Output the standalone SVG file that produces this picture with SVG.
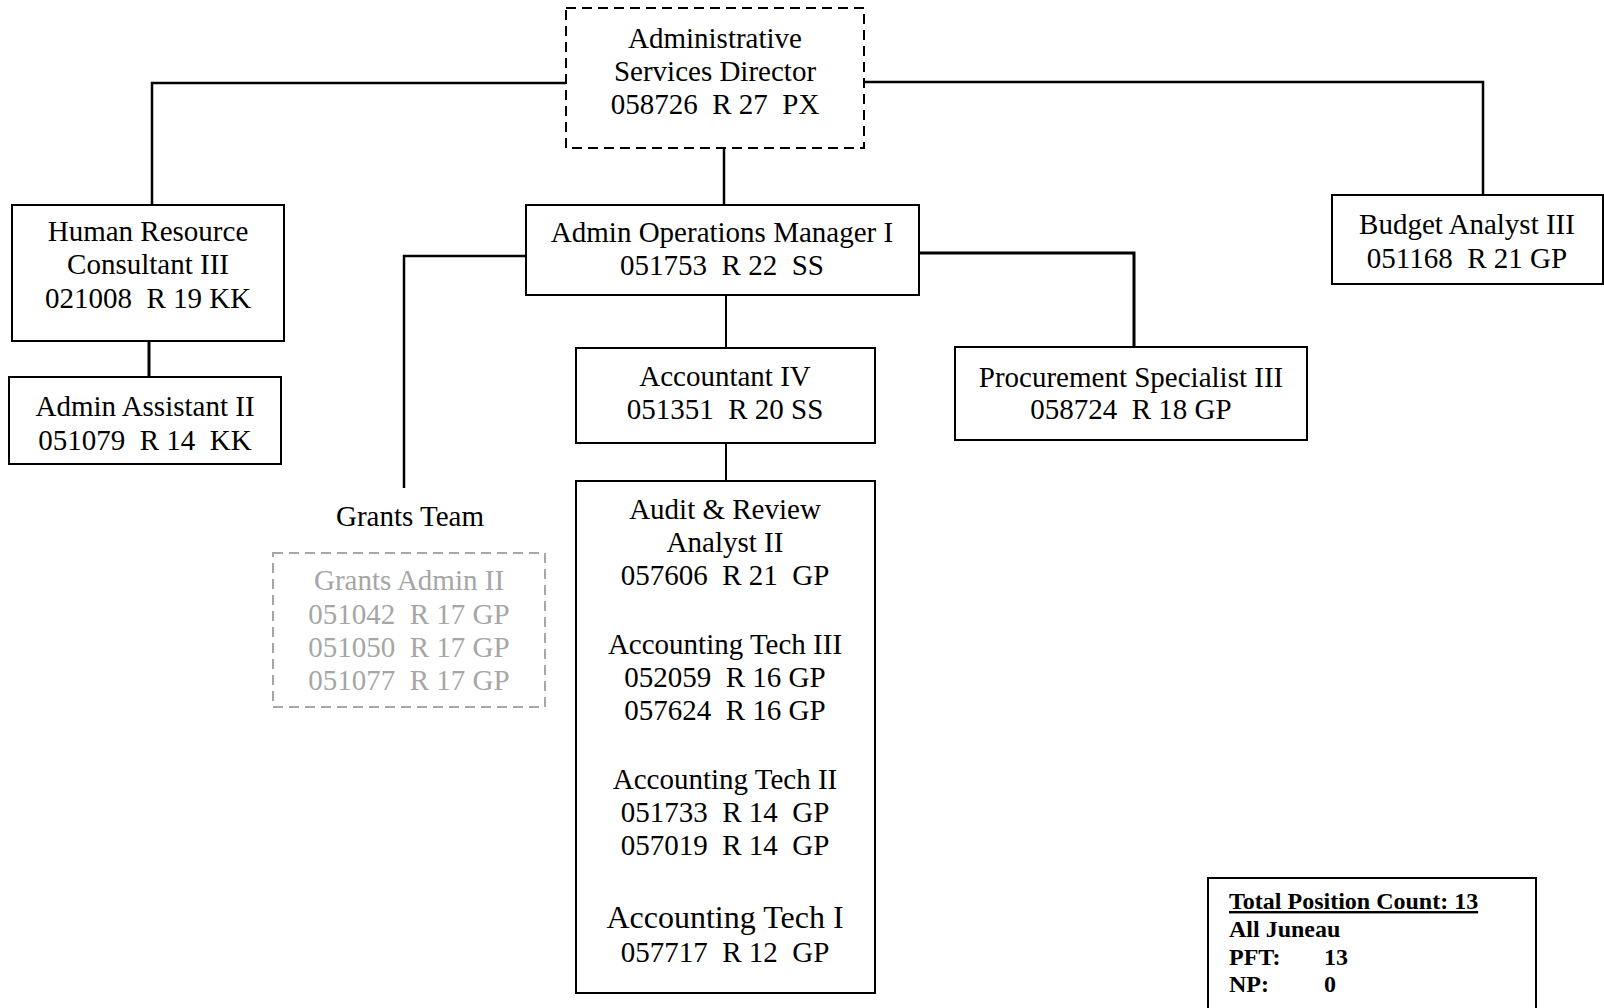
<svg xmlns="http://www.w3.org/2000/svg" width="1604" height="1008" viewBox="0 0 1604 1008">
<style>
.box{fill:#fff;stroke:#000;stroke-width:2}
.dash{fill:#fff;stroke:#000;stroke-width:2;stroke-dasharray:10 6}
.gdash{fill:#fff;stroke:#a6a6a6;stroke-width:2;stroke-dasharray:10 6}
.t{font-family:"Liberation Serif","Times New Roman",serif;font-size:29px;text-anchor:middle;fill:#000}
.g{fill:#a6a6a6}
.b{font-family:"Liberation Serif","Times New Roman",serif;font-size:24px;font-weight:bold;fill:#000}
.c{fill:none;stroke:#000;stroke-width:2.5}
</style>
<rect width="1604" height="1008" fill="#fff"/>
<g id="connectors">
<polyline class="c" points="566,83 152,83 152,205"/>
<polyline class="c" points="864,82 1483,82 1483,195"/>
<line class="c" x1="724" y1="148" x2="724" y2="205"/>
<line class="c" x1="149" y1="341" x2="149" y2="377" style="stroke-width:3"/>
<polyline class="c" points="526,256 404,256 404,488"/>
<polyline class="c" points="919,253 1134,253 1134,347" style="stroke-width:3"/>
<line class="c" x1="726" y1="295" x2="726" y2="348" style="stroke-width:2"/>
<line class="c" x1="726" y1="443" x2="726" y2="481" style="stroke-width:2"/>
</g>
<g id="director">
<rect class="dash" x="566" y="8" width="298" height="140"/>
<text class="t" x="715" y="48">Administrative</text>
<text class="t" x="715" y="81">Services Director</text>
<text class="t" x="715" y="114" xml:space="preserve">058726  R 27  PX</text>
</g>
<g id="hr">
<rect class="box" x="12" y="205" width="272" height="136"/>
<text class="t" x="148" y="241">Human Resource</text>
<text class="t" x="148" y="274">Consultant III</text>
<text class="t" x="148" y="308" xml:space="preserve">021008  R 19 KK</text>
</g>
<g id="admin-assistant">
<rect class="box" x="9" y="377" width="272" height="87"/>
<text class="t" x="145" y="416">Admin Assistant II</text>
<text class="t" x="145" y="450" xml:space="preserve">051079  R 14  KK</text>
</g>
<g id="aom">
<rect class="box" x="526" y="205" width="393" height="90"/>
<text class="t" x="722" y="242">Admin Operations Manager I</text>
<text class="t" x="722" y="275" xml:space="preserve">051753  R 22  SS</text>
</g>
<g id="accountant">
<rect class="box" x="576" y="348" width="299" height="95"/>
<text class="t" x="725" y="386">Accountant IV</text>
<text class="t" x="725" y="419" xml:space="preserve">051351  R 20 SS</text>
</g>
<g id="procurement">
<rect class="box" x="955" y="347" width="352" height="93"/>
<text class="t" x="1131" y="387">Procurement Specialist III</text>
<text class="t" x="1131" y="419" xml:space="preserve">058724  R 18 GP</text>
</g>
<g id="budget">
<rect class="box" x="1332" y="195" width="271" height="89"/>
<text class="t" x="1467" y="234">Budget Analyst III</text>
<text class="t" x="1467" y="268" xml:space="preserve">051168  R 21 GP</text>
</g>
<g id="grants">
<text class="t" x="410" y="526">Grants Team</text>
<rect class="gdash" x="273" y="553" width="272" height="154"/>
<text class="t g" x="409" y="590">Grants Admin II</text>
<text class="t g" x="409" y="624" xml:space="preserve">051042  R 17 GP</text>
<text class="t g" x="409" y="657" xml:space="preserve">051050  R 17 GP</text>
<text class="t g" x="409" y="690" xml:space="preserve">051077  R 17 GP</text>
</g>
<g id="staff">
<rect class="box" x="576" y="481" width="299" height="512"/>
<text class="t" x="725" y="519">Audit &amp; Review</text>
<text class="t" x="725" y="552">Analyst II</text>
<text class="t" x="725" y="585" xml:space="preserve">057606  R 21  GP</text>
<text class="t" x="725" y="654">Accounting Tech III</text>
<text class="t" x="725" y="687" xml:space="preserve">052059  R 16 GP</text>
<text class="t" x="725" y="720" xml:space="preserve">057624  R 16 GP</text>
<text class="t" x="725" y="789">Accounting Tech II</text>
<text class="t" x="725" y="822" xml:space="preserve">051733  R 14  GP</text>
<text class="t" x="725" y="855" xml:space="preserve">057019  R 14  GP</text>
<text class="t" x="725" y="928" style="font-size:32px">Accounting Tech I</text>
<text class="t" x="725" y="962" xml:space="preserve">057717  R 12  GP</text>
</g>
<g id="totals">
<rect class="box" x="1208" y="878" width="328" height="140"/>
<text class="b" x="1229" y="909" text-decoration="underline">Total Position Count: 13</text>
<text class="b" x="1229" y="937">All Juneau</text>
<text class="b" x="1229" y="965">PFT:</text>
<text class="b" x="1324" y="965">13</text>
<text class="b" x="1229" y="992">NP:</text>
<text class="b" x="1324" y="992">0</text>
</g>
</svg>
